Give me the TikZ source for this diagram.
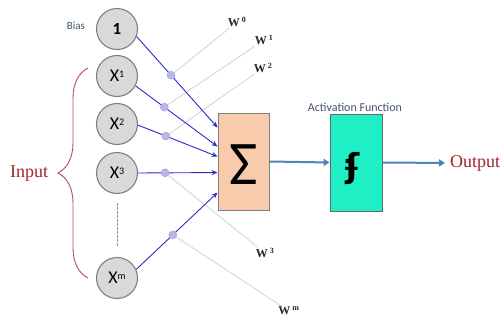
\documentclass[tikz,border=0pt]{standalone}
\usepackage{fontspec}
\setmainfont{Liberation Serif}
\setsansfont{Carlito}
\newfontfamily\djv{DejaVu Sans}
\usetikzlibrary{calc,arrows.meta,decorations.pathreplacing,backgrounds}
\definecolor{cfill}{HTML}{D9D9D9}
\definecolor{cedge}{HTML}{7F7F7F}
\definecolor{sumfill}{HTML}{F8CBAD}
\definecolor{actfill}{HTML}{1FEFC4}
\definecolor{inblue}{HTML}{2B2BD0}
\definecolor{steel}{HTML}{4F81BD}
\definecolor{dotfill}{HTML}{B8B8E0}
\definecolor{wline}{HTML}{D2D2D2}
\definecolor{darkred}{HTML}{A32228}
\definecolor{slate}{HTML}{44546A}
\definecolor{dashc}{HTML}{8090B8}
\newcommand{\supsm}[1]{\raisebox{0.55ex}{\fontsize{10}{10}\selectfont #1}}
\begin{document}
\begin{tikzpicture}[x=1pt,y=-1pt,
  inp/.style={circle,draw=cedge,fill=cfill,line width=1.1pt,minimum size=41pt,inner sep=0pt,
    font=\sffamily\fontsize{18}{18}\selectfont,text=black},
  boxnode/.style={rectangle,draw=cedge,line width=0.9pt,minimum width=51pt,minimum height=97pt,inner sep=0pt},
  wdot/.style={circle,fill=dotfill,draw=dotfill!85!blue,line width=0.4pt,minimum size=8pt,inner sep=0pt},
  wlab/.style={font=\bfseries\fontsize{12}{12}\selectfont,text=black!85,inner sep=1pt},
  wconn/.style={draw=wline,line width=0.8pt},
  inarrow/.style={draw=inblue,line width=0.9pt,-{Stealth[length=6pt,width=5pt]}},
  bigarrow/.style={draw=steel,line width=2pt,-{Triangle[length=6pt,width=7pt]}},
  smalltext/.style={font=\sffamily\fontsize{12}{12}\selectfont,text=slate},
  bigtext/.style={font=\fontsize{18}{18}\selectfont,text=darkred}]
\useasboundingbox (0,0) rectangle (504,320);

% inputs
\node[inp,font=\sffamily\bfseries\fontsize{17}{17}\selectfont] (c0) at (117,29) {1};
\node[inp] (c1) at (117,76) {X\supsm{1}};
\node[inp] (c2) at (117,124) {X\supsm{2}};
\node[inp] (c3) at (117,173) {X\supsm{3}};
\node[inp] (cm) at (117,278) {X\supsm{m}};
\node[smalltext,font=\sffamily\fontsize{11}{11}\selectfont] (bias) at (76,26) {Bias};

% boxes
\node[boxnode,fill=sumfill] (sum) at (243.5,161.5) {};
\node[boxnode,fill=actfill,minimum width=52pt,draw=black!60] (act) at (356,162.5) {};
\node[font=\sffamily\fontsize{62}{62}\selectfont,inner sep=0pt] (sig) at (243.5,165) {Σ};
\node[font=\djv\bfseries\fontsize{33}{33}\selectfont,inner sep=0pt] (fsym) at (353,169) {ʄ};
\node[smalltext] (actlab) at (355,107) {Activation Function};

% outputs / labels
\node[bigtext,anchor=west,inner sep=0pt] (out) at (450,163) {Output};
\node[bigtext,anchor=west,inner sep=0pt] (inlab) at (10,174) {Input};

% target points on sum box
\coordinate (t0) at ($(sum.north west)+(0,15)$);
\coordinate (t1) at ($(sum.north west)+(0,34)$);
\coordinate (t2) at ($(sum.north west)+(0,44)$);
\coordinate (t3) at ($(sum.north west)+(0,60)$);
\coordinate (tm) at ($(sum.north west)+(0,80)$);

% weight dots
\coordinate (p0) at ($(c0.-21)!0.425!(t0)$);
\coordinate (p1) at ($(c1.-28)!0.35!(t1)$);
\coordinate (p2) at ($(c2.-3)!0.35!(t2)$);
\coordinate (p3) at ($(c3.east)!0.34!(t3)$);
\coordinate (pm) at ($(cm.24)!0.45!(tm)$);

% weight labels
\node[wlab] (w0) at (237,22) {W\,\textsuperscript{0}};
\node[wlab] (w1) at (264,40) {W\,\textsuperscript{1}};
\node[wlab] (w2) at (263,68) {W\,\textsuperscript{2}};
\node[wlab] (w3) at (265,253) {W\,\textsuperscript{3}};
\node[wlab] (wm) at (289,311) {W\,\textsuperscript{m}};

\begin{scope}[on background layer]
\draw[wconn] (p0) -- (w0);
\draw[wconn] (p1) -- (w1);
\draw[wconn] (p2) -- (w2);
\draw[wconn] (p3) -- (w3);
\draw[wconn] (pm) -- (wm);
\end{scope}

% input arrows
\draw[inarrow] (c0.-21) -- (t0);
\draw[inarrow] (c1.-28) -- (t1);
\draw[inarrow] (c2.-3) -- (t2);
\draw[inarrow] (c3.east) -- (t3);
\draw[inarrow] (cm.24) -- (tm);

\node[wdot] (d0) at (p0) {};
\node[wdot] (d1) at (p1) {};
\node[wdot] (d2) at (p2) {};
\node[wdot] (d3) at (p3) {};
\node[wdot] (dm) at (pm) {};

% dashed ellipsis
\draw[draw=dashc,dash pattern=on 2.5pt off 1.5pt,line width=1pt,shorten <=9pt,shorten >=10pt] (c3) -- (cm);

% big arrows
\draw[bigarrow] (sum.east) -- (act.west);
\draw[bigarrow,shorten >=5pt] (act.east) -- (out.west);

% brace
\coordinate (bb) at (88,278);
\coordinate (bt) at (88,68);
\draw[darkred!80,line width=0.9pt,decorate,decoration={brace,amplitude=30pt}] (bb) -- (bt);
\end{tikzpicture}
\end{document}
